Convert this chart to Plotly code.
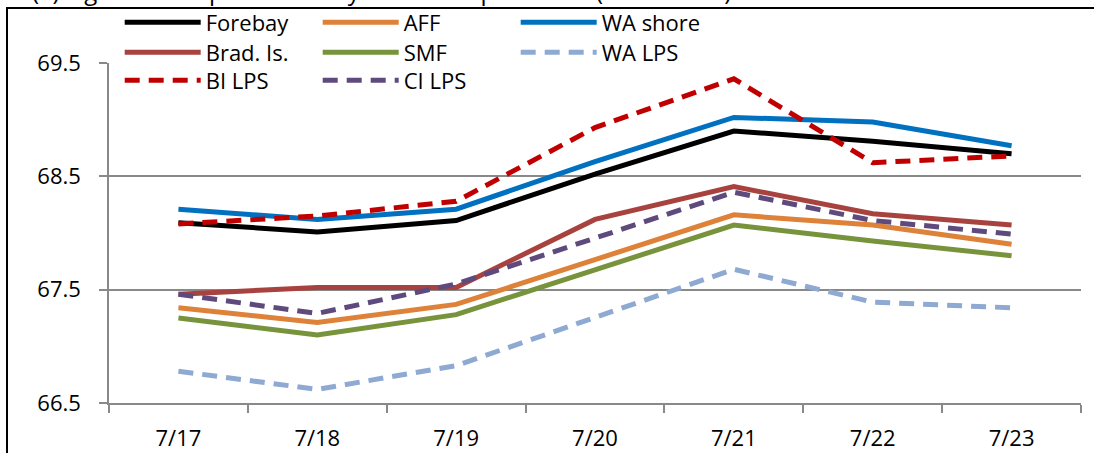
import plotly.graph_objects as go

dates = ["7/17", "7/18", "7/19", "7/20", "7/21", "7/22", "7/23"]
forebay = [68.09, 68.01, 68.11, 68.52, 68.90, 68.81, 68.70]
aff = [67.34, 67.21, 67.37, 67.76, 68.16, 68.07, 67.90]
wa_shore = [68.21, 68.12, 68.21, 68.63, 69.02, 68.98, 68.77]
brad_is = [67.46, 67.52, 67.52, 68.12, 68.41, 68.17, 68.07]
smf = [67.25, 67.10, 67.28, 67.68, 68.07, 67.93, 67.80]
wa_lps = [66.78, 66.62, 66.83, 67.26, 67.68, 67.39, 67.34]
bi_lps = [68.08, 68.15, 68.28, 68.93, 69.36, 68.62, 68.68]
ci_lps = [67.46, 67.29, 67.55, 67.95, 68.36, 68.11, 67.99]

series = [
    ("Forebay", forebay, "#000000", "solid", "legend"),
    ("AFF", aff, "#DE8239", "solid", "legend"),
    ("WA shore", wa_shore, "#0070C0", "solid", "legend"),
    ("Brad. Is.", brad_is, "#A8423F", "solid", "legend2"),
    ("SMF", smf, "#77933C", "solid", "legend2"),
    ("WA LPS", wa_lps, "#8EA9D2", "15px,9px", "legend2"),
    ("BI LPS", bi_lps, "#C00000", "15px,9px", "legend3"),
    ("CI LPS", ci_lps, "#5F4A7D", "15px,9px", "legend3"),
]

FONT = "Open Sans, Lato, sans-serif"

fig = go.Figure()
for name, vals, color, dash, lg in series:
    fig.add_trace(go.Scatter(
        x=dates, y=vals, name=name, mode="lines",
        line=dict(color=color, width=5, dash=dash),
        legend=lg,
    ))

GRID = "#898989"
PH = 340.5
leg_common = dict(
    orientation="h", xanchor="left", yanchor="middle",
    font=dict(family=FONT, size=22, color="#000000"),
    bgcolor="rgba(0,0,0,0)", itemwidth=76, entrywidth=107,
    entrywidthmode="pixels", tracegroupgap=0, itemclick=False,
)
fig.update_layout(
    width=1094, height=453,
    margin=dict(l=109, r=13, t=62.5, b=50, autoexpand=False),
    paper_bgcolor="white", plot_bgcolor="white",
    font=dict(family=FONT, size=22, color="#000000"),
    showlegend=True,
    legend=dict(x=0.011, y=(403 - 22) / PH, **leg_common),
    legend2=dict(x=0.011, y=(403 - 52) / PH, **leg_common),
    legend3=dict(x=0.011, y=(403 - 80) / PH, **leg_common),
    xaxis=dict(
        type="category", range=[-0.5, 6.5],
        showgrid=False, showline=True, linecolor=GRID, linewidth=1.5,
        ticks="outside", tickson="boundaries", ticklen=8, tickcolor=GRID,
        tickwidth=1.5, ticklabelstandoff=15,
        tickfont=dict(family=FONT, size=22, color="#000000"),
    ),
    yaxis=dict(
        range=[66.5, 69.5], dtick=1, tick0=66.5, tickformat=".1f",
        showgrid=True, gridcolor=GRID, gridwidth=1.5,
        showline=True, linecolor=GRID, linewidth=1.5,
        ticks="outside", ticklen=8, tickcolor=GRID, tickwidth=1.5,
        ticklabelstandoff=14, zeroline=False,
        tickfont=dict(family=FONT, size=22, color="#000000"),
    ),
    shapes=[dict(
        type="rect", xref="paper", yref="paper",
        x0=(7 - 109) / 972, x1=(1110 - 109) / 972,
        y0=(403 - 470) / PH, y1=(403 - 7.5) / PH,
        line=dict(color="#000000", width=2), fillcolor="rgba(0,0,0,0)",
        layer="below",
    )],
    annotations=[dict(
        text="(a) Figure 6. Snapshot of daily water temperatures (Fahrenheit)",
        xref="paper", yref="paper", x=(30 - 109) / 972, y=1.0,
        xanchor="left", yanchor="bottom", yshift=62.5 - 9,
        showarrow=False,
        font=dict(family=FONT, size=24, color="#000000"),
    )],
)

fig.write_html(
    "out.html",
    config={"displayModeBar": False},
    post_script="document.body.style.margin='0px';document.body.style.overflow='hidden';",
)
